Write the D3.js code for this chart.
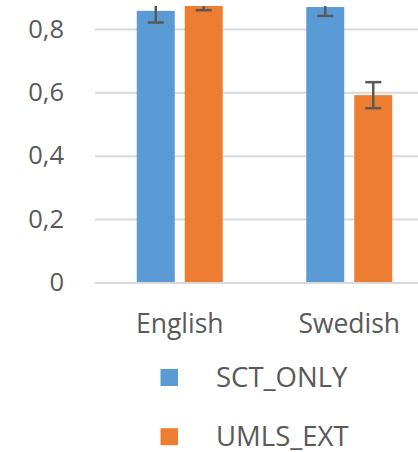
<!DOCTYPE html>
<html>
<head>
<meta charset="utf-8">
<script src="https://cdn.jsdelivr.net/npm/d3@7"></script>
<style>
  body { margin: 0; background: #fff; }
  svg { display: block; font-family: "Open Sans", sans-serif; }
</style>
</head>
<body>
<div id="chart"></div>
<script>
// data
var categories = ["English", "Swedish"];
var series = ["SCT_ONLY", "UMLS_EXT"];
var sctValues = [0.857, 0.869];
var umlsValues = [0.877, 0.591];
var sctErrors = [0.037, 0.028];
var umlsErrors = [0.018, 0.041];
var yTicks = [0, 0.2, 0.4, 0.6, 0.8];

var colors = ["#5b9bd5", "#ed7d31"];
var width = 418, height = 452;

var svg = d3.select("#chart").append("svg")
    .attr("width", width)
    .attr("height", height);

// scales (the plot is cropped on top and right)
var y = d3.scaleLinear().domain([0, 1]).range([282.5, -34.5]);
var x0 = d3.scaleBand().domain(categories).range([95, 434]).padding(0);
var x1 = d3.scaleBand().domain(series)
    .range([x0.bandwidth() / 2 - 43, x0.bandwidth() / 2 + 43])
    .paddingInner(10 / 48);

var rows = [];
categories.forEach(function (c, i) {
    rows.push({cat: c, s: series[0], v: sctValues[i], e: sctErrors[i], col: colors[0]});
    rows.push({cat: c, s: series[1], v: umlsValues[i], e: umlsErrors[i], col: colors[1]});
});

svg.append("clipPath").attr("id", "plotclip")
    .append("rect").attr("x", 0).attr("y", 6).attr("width", width).attr("height", 300);

// y axis with gridlines
var yAxis = svg.append("g")
    .attr("transform", "translate(95,0)")
    .call(d3.axisLeft(y).tickValues(yTicks).tickSize(-323).tickPadding(31)
        .tickFormat(function (d) { return d === 0 ? "0" : String(d).replace(".", ","); }));
yAxis.select(".domain").remove();
yAxis.selectAll(".tick line").attr("stroke", "#d9d9d9").attr("stroke-width", 2);
yAxis.selectAll(".tick text")
    .attr("fill", "#595959")
    .style("font-size", "25.5px")
    .style("font-family", "'Open Sans', sans-serif");

var plot = svg.append("g").attr("clip-path", "url(#plotclip)");

// bars
plot.selectAll("rect.bar")
    .data(rows)
    .enter().append("rect")
    .attr("class", "bar")
    .attr("x", function (d) { return x0(d.cat) + x1(d.s); })
    .attr("y", function (d) { return y(d.v); })
    .attr("width", x1.bandwidth())
    .attr("height", function (d) { return y(0) - 0.5 - y(d.v); })
    .attr("fill", function (d) { return d.col; });

// error bars
var err = plot.selectAll("g.err")
    .data(rows)
    .enter().append("g")
    .attr("class", "err")
    .attr("stroke", "#595959")
    .attr("stroke-width", 2.5);

err.append("line")
    .attr("x1", function (d) { return x0(d.cat) + x1(d.s) + x1.bandwidth() / 2; })
    .attr("x2", function (d) { return x0(d.cat) + x1(d.s) + x1.bandwidth() / 2; })
    .attr("y1", function (d) { return y(d.v - d.e); })
    .attr("y2", function (d) { return y(d.v + d.e); });

[-1, 1].forEach(function (sign) {
    err.append("line")
        .attr("x1", function (d) { return x0(d.cat) + x1(d.s) + x1.bandwidth() / 2 - 8; })
        .attr("x2", function (d) { return x0(d.cat) + x1(d.s) + x1.bandwidth() / 2 + 8; })
        .attr("y1", function (d) { return y(d.v + sign * d.e); })
        .attr("y2", function (d) { return y(d.v + sign * d.e); });
});

// category labels
var xAxis = svg.append("g")
    .attr("transform", "translate(0,282.5)")
    .call(d3.axisBottom(x0).tickSize(0).tickPadding(0));
xAxis.select(".domain").remove();
xAxis.selectAll(".tick text")
    .attr("y", 50.5)
    .attr("dy", 0)
    .attr("fill", "#595959")
    .style("font-size", "26.5px")
    .style("font-family", "'Open Sans', sans-serif");

// legend
var legend = svg.selectAll("g.legend")
    .data(series)
    .enter().append("g")
    .attr("class", "legend")
    .attr("transform", function (d, i) { return "translate(0," + (i * 59.2) + ")"; });

legend.append("rect")
    .attr("x", 160.5)
    .attr("y", 369)
    .attr("width", 17.5)
    .attr("height", 17)
    .attr("fill", function (d, i) { return colors[i]; });

legend.append("text")
    .attr("x", 216)
    .attr("y", 386.5)
    .attr("fill", "#595959")
    .style("font-size", "27.5px")
    .text(function (d) { return d; });
</script>
</body>
</html>
